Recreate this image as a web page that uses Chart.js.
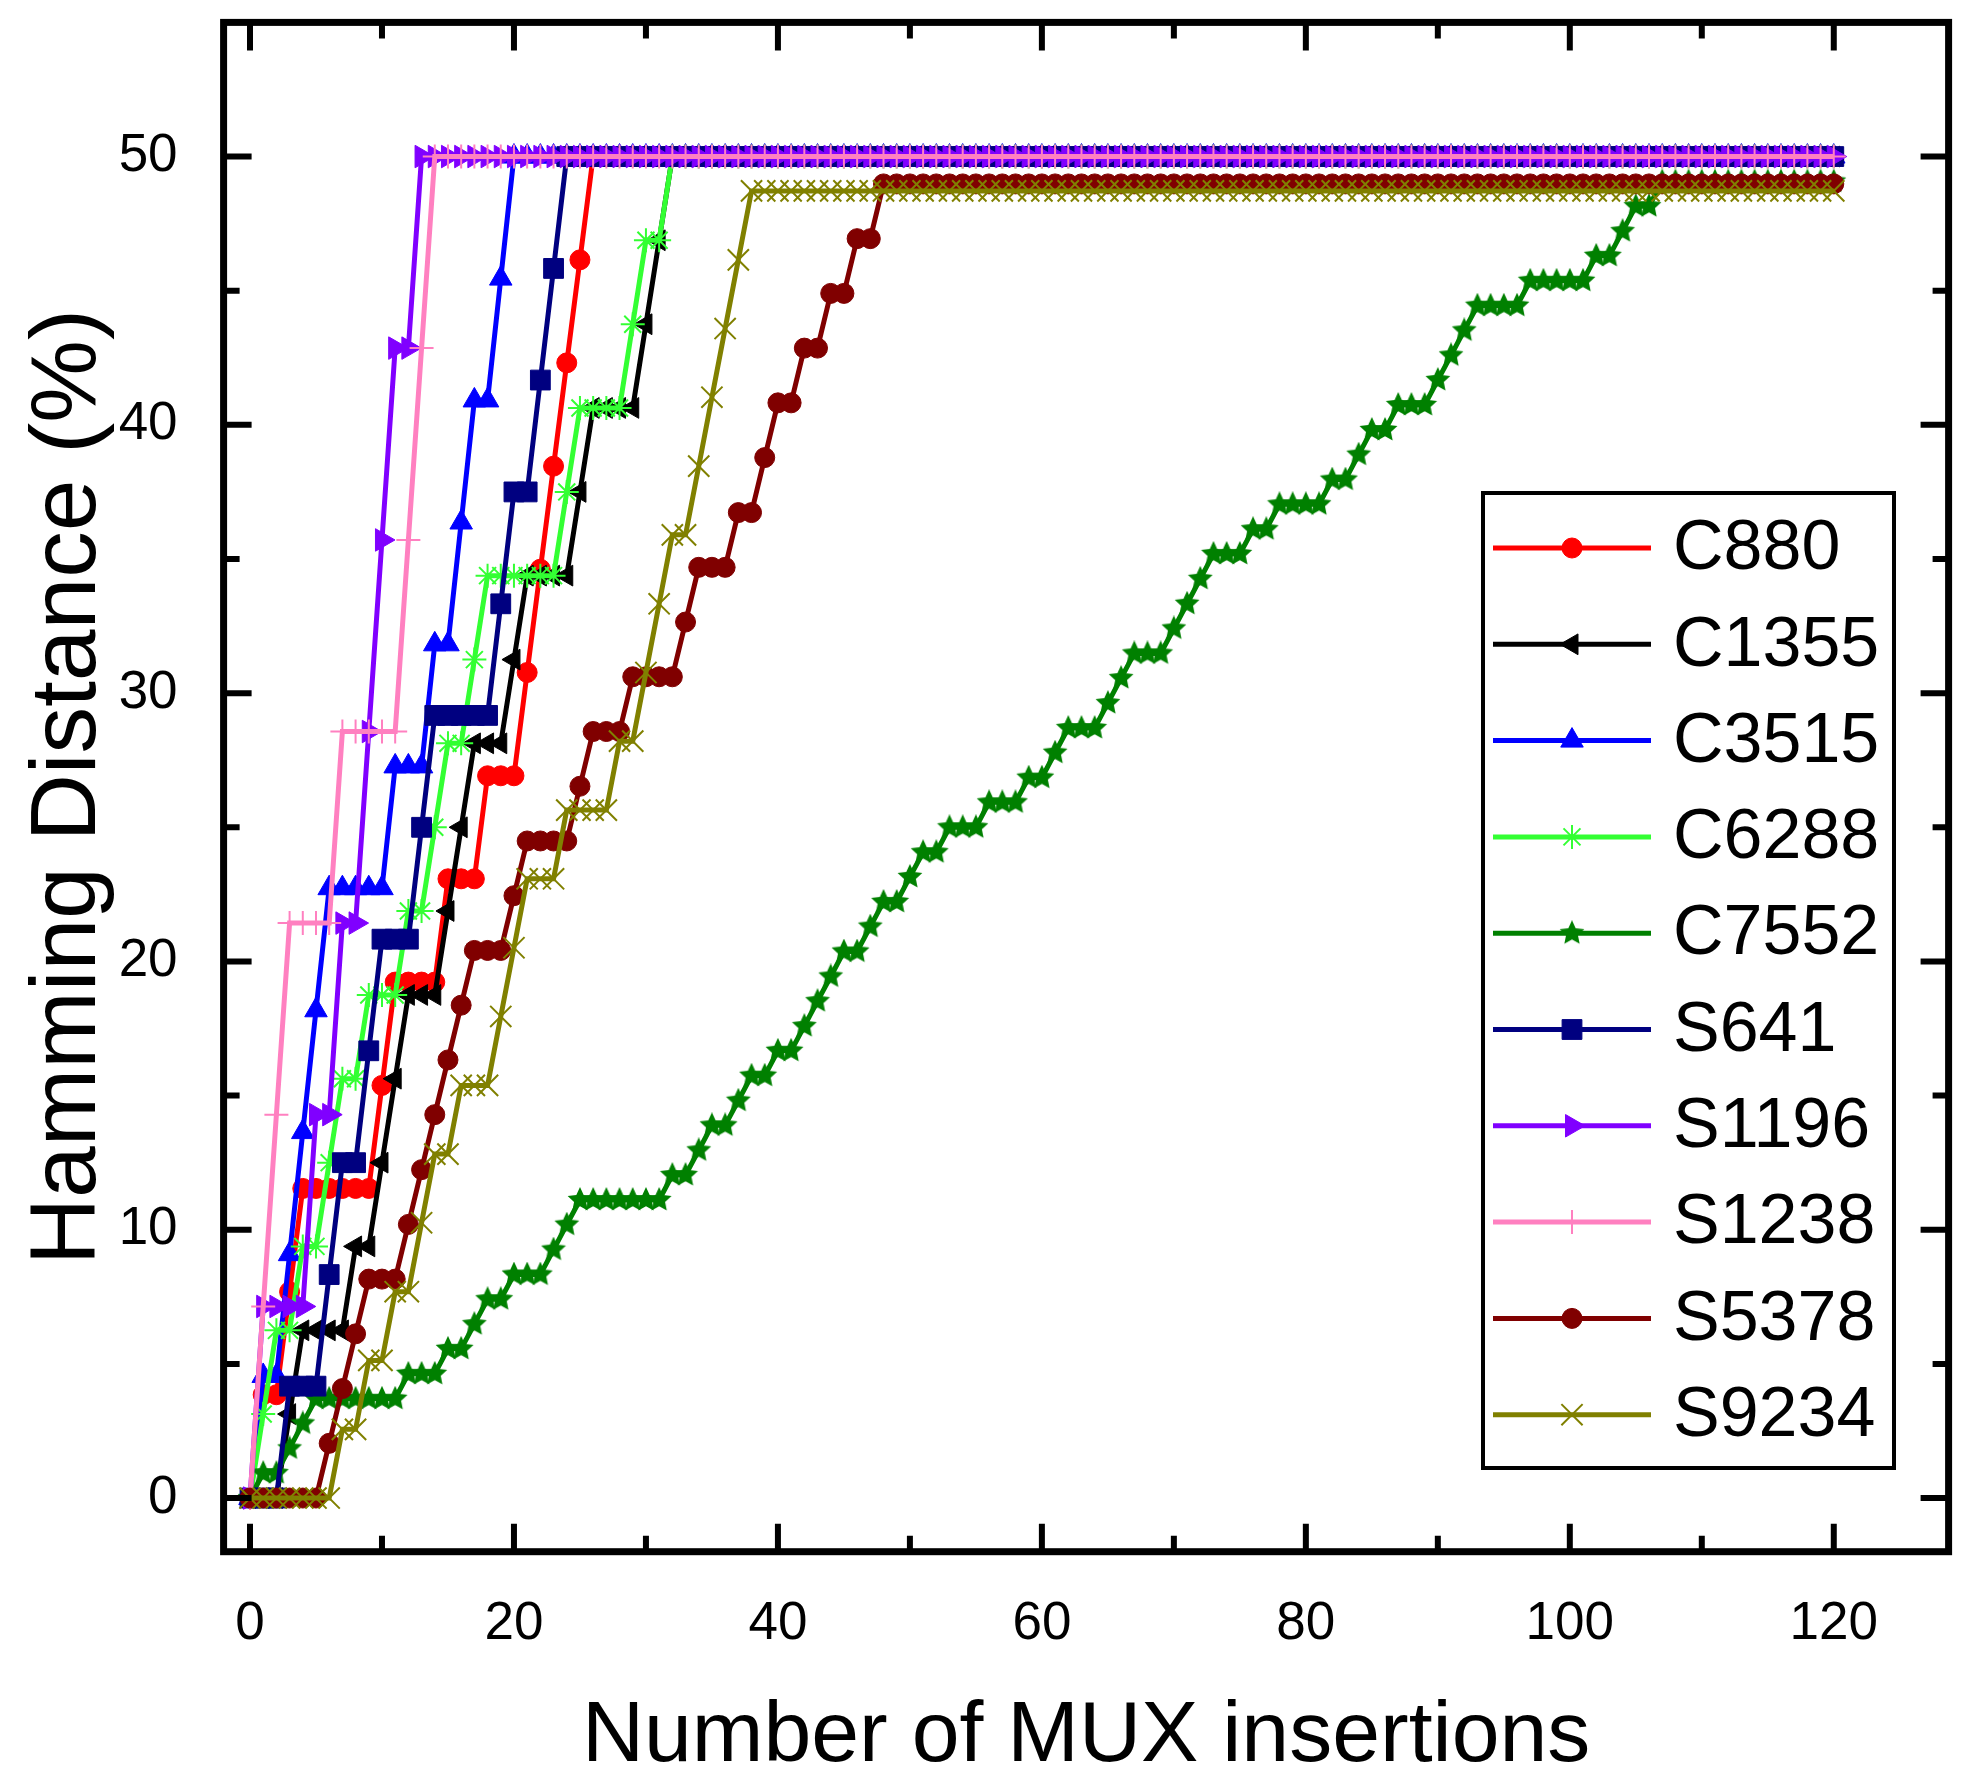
<!DOCTYPE html>
<html>
<head>
<meta charset="utf-8">
<title>Hamming Distance vs MUX insertions</title>
<script src="https://cdn.jsdelivr.net/npm/chart.js@4/dist/chart.umd.min.js"></script>
<style>
  html, body { margin: 0; padding: 0; background: #fff; }
  #chart { display: block; }
</style>
</head>
<body>
<canvas id="chart" width="1984" height="1791" style="width:1984px;height:1791px"></canvas>
<script>
// x values: number of MUX insertions
const insertions = [
  0, 1, 2, 3, 4, 5, 6, 7, 8, 9,
  10, 11, 12, 13, 14, 15, 16, 17, 18, 19,
  20, 21, 22, 23, 24, 25, 26, 27, 28, 29,
  30, 31, 32, 33, 34, 35, 36, 37, 38, 39,
  40, 41, 42, 43, 44, 45, 46, 47, 48, 49,
  50, 51, 52, 53, 54, 55, 56, 57, 58, 59,
  60, 61, 62, 63, 64, 65, 66, 67, 68, 69,
  70, 71, 72, 73, 74, 75, 76, 77, 78, 79,
  80, 81, 82, 83, 84, 85, 86, 87, 88, 89,
  90, 91, 92, 93, 94, 95, 96, 97, 98, 99,
  100, 101, 102, 103, 104, 105, 106, 107, 108, 109,
  110, 111, 112, 113, 114, 115, 116, 117, 118, 119,
  120
];

const c880 = [
  0, 3.85, 3.85, 7.69, 11.54, 11.54, 11.54, 11.54, 11.54, 11.54,
  15.38, 19.23, 19.23, 19.23, 19.23, 23.08, 23.08, 23.08, 26.92, 26.92,
  26.92, 30.77, 34.62, 38.46, 42.31, 46.15, 50, 50, 50, 50,
  50, 50, 50, 50, 50, 50, 50, 50, 50, 50,
  50, 50, 50, 50, 50, 50, 50, 50, 50, 50,
  50, 50, 50, 50, 50, 50, 50, 50, 50, 50,
  50, 50, 50, 50, 50, 50, 50, 50, 50, 50,
  50, 50, 50, 50, 50, 50, 50, 50, 50, 50,
  50, 50, 50, 50, 50, 50, 50, 50, 50, 50,
  50, 50, 50, 50, 50, 50, 50, 50, 50, 50,
  50, 50, 50, 50, 50, 50, 50, 50, 50, 50,
  50, 50, 50, 50, 50, 50, 50, 50, 50, 50,
  50
];

const c1355 = [
  0, 0, 0, 3.13, 6.25, 6.25, 6.25, 6.25, 9.38, 9.38,
  12.5, 15.63, 18.75, 18.75, 18.75, 21.88, 25, 28.13, 28.13, 28.13,
  31.25, 34.38, 34.38, 34.38, 34.38, 37.5, 40.63, 40.63, 40.63, 40.63,
  43.75, 46.88, 50, 50, 50, 50, 50, 50, 50, 50,
  50, 50, 50, 50, 50, 50, 50, 50, 50, 50,
  50, 50, 50, 50, 50, 50, 50, 50, 50, 50,
  50, 50, 50, 50, 50, 50, 50, 50, 50, 50,
  50, 50, 50, 50, 50, 50, 50, 50, 50, 50,
  50, 50, 50, 50, 50, 50, 50, 50, 50, 50,
  50, 50, 50, 50, 50, 50, 50, 50, 50, 50,
  50, 50, 50, 50, 50, 50, 50, 50, 50, 50,
  50, 50, 50, 50, 50, 50, 50, 50, 50, 50,
  50
];

const c3515 = [
  0, 4.55, 4.55, 9.09, 13.64, 18.18, 22.73, 22.73, 22.73, 22.73,
  22.73, 27.27, 27.27, 27.27, 31.82, 31.82, 36.36, 40.91, 40.91, 45.45,
  50, 50, 50, 50, 50, 50, 50, 50, 50, 50,
  50, 50, 50, 50, 50, 50, 50, 50, 50, 50,
  50, 50, 50, 50, 50, 50, 50, 50, 50, 50,
  50, 50, 50, 50, 50, 50, 50, 50, 50, 50,
  50, 50, 50, 50, 50, 50, 50, 50, 50, 50,
  50, 50, 50, 50, 50, 50, 50, 50, 50, 50,
  50, 50, 50, 50, 50, 50, 50, 50, 50, 50,
  50, 50, 50, 50, 50, 50, 50, 50, 50, 50,
  50, 50, 50, 50, 50, 50, 50, 50, 50, 50,
  50, 50, 50, 50, 50, 50, 50, 50, 50, 50,
  50
];

const c6288 = [
  0, 3.13, 6.25, 6.25, 9.38, 9.38, 12.5, 15.63, 15.63, 18.75,
  18.75, 18.75, 21.88, 21.88, 25, 28.13, 28.13, 31.25, 34.38, 34.38,
  34.38, 34.38, 34.38, 34.38, 37.5, 40.63, 40.63, 40.63, 40.63, 43.75,
  46.88, 46.88, 50, 50, 50, 50, 50, 50, 50, 50,
  50, 50, 50, 50, 50, 50, 50, 50, 50, 50,
  50, 50, 50, 50, 50, 50, 50, 50, 50, 50,
  50, 50, 50, 50, 50, 50, 50, 50, 50, 50,
  50, 50, 50, 50, 50, 50, 50, 50, 50, 50,
  50, 50, 50, 50, 50, 50, 50, 50, 50, 50,
  50, 50, 50, 50, 50, 50, 50, 50, 50, 50,
  50, 50, 50, 50, 50, 50, 50, 50, 50, 50,
  50, 50, 50, 50, 50, 50, 50, 50, 50, 50,
  50
];

const c7552 = [
  0, 0.93, 0.93, 1.85, 2.78, 3.7, 3.7, 3.7, 3.7, 3.7,
  3.7, 3.7, 4.63, 4.63, 4.63, 5.56, 5.56, 6.48, 7.41, 7.41,
  8.33, 8.33, 8.33, 9.26, 10.19, 11.11, 11.11, 11.11, 11.11, 11.11,
  11.11, 11.11, 12.04, 12.04, 12.96, 13.89, 13.89, 14.81, 15.74, 15.74,
  16.67, 16.67, 17.59, 18.52, 19.44, 20.37, 20.37, 21.3, 22.22, 22.22,
  23.15, 24.07, 24.07, 25, 25, 25, 25.93, 25.93, 25.93, 26.85,
  26.85, 27.78, 28.7, 28.7, 28.7, 29.63, 30.56, 31.48, 31.48, 31.48,
  32.41, 33.33, 34.26, 35.19, 35.19, 35.19, 36.11, 36.11, 37.04, 37.04,
  37.04, 37.04, 37.96, 37.96, 38.89, 39.81, 39.81, 40.74, 40.74, 40.74,
  41.67, 42.59, 43.52, 44.44, 44.44, 44.44, 44.44, 45.37, 45.37, 45.37,
  45.37, 45.37, 46.3, 46.3, 47.22, 48.15, 48.15, 49.07, 49.07, 49.07,
  49.07, 49.07, 49.07, 49.07, 49.07, 49.07, 49.07, 49.07, 49.07, 49.07,
  49.07
];

const s641 = [
  0, 0, 0, 4.17, 4.17, 4.17, 8.33, 12.5, 12.5, 16.67,
  20.83, 20.83, 20.83, 25, 29.17, 29.17, 29.17, 29.17, 29.17, 33.33,
  37.5, 37.5, 41.67, 45.83, 50, 50, 50, 50, 50, 50,
  50, 50, 50, 50, 50, 50, 50, 50, 50, 50,
  50, 50, 50, 50, 50, 50, 50, 50, 50, 50,
  50, 50, 50, 50, 50, 50, 50, 50, 50, 50,
  50, 50, 50, 50, 50, 50, 50, 50, 50, 50,
  50, 50, 50, 50, 50, 50, 50, 50, 50, 50,
  50, 50, 50, 50, 50, 50, 50, 50, 50, 50,
  50, 50, 50, 50, 50, 50, 50, 50, 50, 50,
  50, 50, 50, 50, 50, 50, 50, 50, 50, 50,
  50, 50, 50, 50, 50, 50, 50, 50, 50, 50,
  50
];

const s1196 = [
  0, 7.14, 7.14, 7.14, 7.14, 14.29, 14.29, 21.43, 21.43, 28.57,
  35.71, 42.86, 42.86, 50, 50, 50, 50, 50, 50, 50,
  50, 50, 50, 50, 50, 50, 50, 50, 50, 50,
  50, 50, 50, 50, 50, 50, 50, 50, 50, 50,
  50, 50, 50, 50, 50, 50, 50, 50, 50, 50,
  50, 50, 50, 50, 50, 50, 50, 50, 50, 50,
  50, 50, 50, 50, 50, 50, 50, 50, 50, 50,
  50, 50, 50, 50, 50, 50, 50, 50, 50, 50,
  50, 50, 50, 50, 50, 50, 50, 50, 50, 50,
  50, 50, 50, 50, 50, 50, 50, 50, 50, 50,
  50, 50, 50, 50, 50, 50, 50, 50, 50, 50,
  50, 50, 50, 50, 50, 50, 50, 50, 50, 50,
  50
];

const s1238 = [
  0, 7.14, 14.29, 21.43, 21.43, 21.43, 21.43, 28.57, 28.57, 28.57,
  28.57, 28.57, 35.71, 42.86, 50, 50, 50, 50, 50, 50,
  50, 50, 50, 50, 50, 50, 50, 50, 50, 50,
  50, 50, 50, 50, 50, 50, 50, 50, 50, 50,
  50, 50, 50, 50, 50, 50, 50, 50, 50, 50,
  50, 50, 50, 50, 50, 50, 50, 50, 50, 50,
  50, 50, 50, 50, 50, 50, 50, 50, 50, 50,
  50, 50, 50, 50, 50, 50, 50, 50, 50, 50,
  50, 50, 50, 50, 50, 50, 50, 50, 50, 50,
  50, 50, 50, 50, 50, 50, 50, 50, 50, 50,
  50, 50, 50, 50, 50, 50, 50, 50, 50, 50,
  50, 50, 50, 50, 50, 50, 50, 50, 50, 50,
  50
];

const s5378 = [
  0, 0, 0, 0, 0, 0, 2.04, 4.08, 6.12, 8.16,
  8.16, 8.16, 10.2, 12.24, 14.29, 16.33, 18.37, 20.41, 20.41, 20.41,
  22.45, 24.49, 24.49, 24.49, 24.49, 26.53, 28.57, 28.57, 28.57, 30.61,
  30.61, 30.61, 30.61, 32.65, 34.69, 34.69, 34.69, 36.73, 36.73, 38.78,
  40.82, 40.82, 42.86, 42.86, 44.9, 44.9, 46.94, 46.94, 48.98, 48.98,
  48.98, 48.98, 48.98, 48.98, 48.98, 48.98, 48.98, 48.98, 48.98, 48.98,
  48.98, 48.98, 48.98, 48.98, 48.98, 48.98, 48.98, 48.98, 48.98, 48.98,
  48.98, 48.98, 48.98, 48.98, 48.98, 48.98, 48.98, 48.98, 48.98, 48.98,
  48.98, 48.98, 48.98, 48.98, 48.98, 48.98, 48.98, 48.98, 48.98, 48.98,
  48.98, 48.98, 48.98, 48.98, 48.98, 48.98, 48.98, 48.98, 48.98, 48.98,
  48.98, 48.98, 48.98, 48.98, 48.98, 48.98, 48.98, 48.98, 48.98, 48.98,
  48.98, 48.98, 48.98, 48.98, 48.98, 48.98, 48.98, 48.98, 48.98, 48.98,
  48.98
];

const s9234 = [
  0, 0, 0, 0, 0, 0, 0, 2.56, 2.56, 5.13,
  5.13, 7.69, 7.69, 10.26, 12.82, 12.82, 15.38, 15.38, 15.38, 17.95,
  20.51, 23.08, 23.08, 23.08, 25.64, 25.64, 25.64, 25.64, 28.21, 28.21,
  30.77, 33.33, 35.9, 35.9, 38.46, 41.03, 43.59, 46.15, 48.72, 48.72,
  48.72, 48.72, 48.72, 48.72, 48.72, 48.72, 48.72, 48.72, 48.72, 48.72,
  48.72, 48.72, 48.72, 48.72, 48.72, 48.72, 48.72, 48.72, 48.72, 48.72,
  48.72, 48.72, 48.72, 48.72, 48.72, 48.72, 48.72, 48.72, 48.72, 48.72,
  48.72, 48.72, 48.72, 48.72, 48.72, 48.72, 48.72, 48.72, 48.72, 48.72,
  48.72, 48.72, 48.72, 48.72, 48.72, 48.72, 48.72, 48.72, 48.72, 48.72,
  48.72, 48.72, 48.72, 48.72, 48.72, 48.72, 48.72, 48.72, 48.72, 48.72,
  48.72, 48.72, 48.72, 48.72, 48.72, 48.72, 48.72, 48.72, 48.72, 48.72,
  48.72, 48.72, 48.72, 48.72, 48.72, 48.72, 48.72, 48.72, 48.72, 48.72,
  48.72
];

const circuits = ['C880', 'C1355', 'C3515', 'C6288', 'C7552', 'S641', 'S1196', 'S1238', 'S5378', 'S9234'];
const series = [c880, c1355, c3515, c6288, c7552, s641, s1196, s1238, s5378, s9234];

const xMajorTicks = [0, 20, 40, 60, 80, 100, 120];
const xMinorTicks = [10, 30, 50, 70, 90, 110];
const yMajorTicks = [0, 10, 20, 30, 40, 50];
const yMinorTicks = [5, 15, 25, 35, 45];

const FONT = "'Liberation Sans', Arial, Helvetica, sans-serif";

// filled five point star used for C7552
function makeStar(color, size) {
  const c = document.createElement('canvas');
  c.width = size; c.height = size;
  const g = c.getContext('2d');
  g.fillStyle = color;
  g.beginPath();
  for (let k = 0; k < 10; k++) {
    const r = k % 2 ? size * 0.24 : size * 0.5;
    const a = -Math.PI / 2 + k * Math.PI / 5;
    g.lineTo(size / 2 + r * Math.cos(a), size / 2 + r * Math.sin(a));
  }
  g.closePath();
  g.fill();
  return c;
}

// marker look per series
const looks = [
  { color: '#ff0000', point: 'circle', radius: 10, rot: 0, bw: 1 },
  { color: '#000000', point: 'triangle', radius: 12, rot: -90, bw: 1 },
  { color: '#0000ff', point: 'triangle', radius: 13, rot: 0, bw: 1 },
  { color: '#33ff33', point: 'star', radius: 12, rot: 0, bw: 2 },
  { color: '#008000', point: makeStar('#008000', 26), radius: 13, rot: 0, bw: 1 },
  { color: '#000080', point: 'rect', radius: 14, rot: 0, bw: 1 },
  { color: '#8000ff', point: 'triangle', radius: 13, rot: 90, bw: 1 },
  { color: '#ff80c0', point: 'cross', radius: 12, rot: 0, bw: 2 },
  { color: '#800000', point: 'circle', radius: 10, rot: 0, bw: 1 },
  { color: '#808000', point: 'crossRot', radius: 15, rot: 0, bw: 2 }
];

const datasets = series.map((vals, i) => ({
  label: circuits[i],
  data: vals,
  borderColor: looks[i].color,
  backgroundColor: looks[i].color,
  borderWidth: 5,
  pointStyle: looks[i].point,
  pointRadius: looks[i].radius,
  pointRotation: looks[i].rot,
  pointBorderWidth: looks[i].bw,
  pointBackgroundColor: looks[i].color,
  pointBorderColor: looks[i].color,
  tension: 0,
  order: series.length - i
}));

// frame, inward ticks on all four sides, and the boxed legend
const frameAndLegend = {
  id: 'frameAndLegend',
  afterDatasetsDraw(chart) {
    const { ctx, chartArea: a, scales: { x, y } } = chart;
    ctx.save();
    ctx.strokeStyle = '#000';
    ctx.lineCap = 'butt';
    ctx.lineWidth = 6;
    const vTick = (v, len) => {
      const px = x.getPixelForValue(v);
      ctx.beginPath();
      ctx.moveTo(px, a.bottom); ctx.lineTo(px, a.bottom - len);
      ctx.moveTo(px, a.top); ctx.lineTo(px, a.top + len);
      ctx.stroke();
    };
    const hTick = (v, len) => {
      const py = y.getPixelForValue(v);
      ctx.beginPath();
      ctx.moveTo(a.left, py); ctx.lineTo(a.left + len, py);
      ctx.moveTo(a.right, py); ctx.lineTo(a.right - len, py);
      ctx.stroke();
    };
    xMajorTicks.forEach(v => vTick(v, 28));
    xMinorTicks.forEach(v => vTick(v, 16));
    yMajorTicks.forEach(v => hTick(v, 28));
    yMinorTicks.forEach(v => hTick(v, 16));
    ctx.lineWidth = 7;
    ctx.strokeRect(a.left, a.top, a.right - a.left, a.bottom - a.top);

    // legend
    const lx = 1483, ly = 493, lw = 411, lh = 975;
    ctx.fillStyle = '#fff';
    ctx.fillRect(lx, ly, lw, lh);
    ctx.lineWidth = 4;
    ctx.strokeRect(lx, ly, lw, lh);
    ctx.font = '70px ' + FONT;
    ctx.textBaseline = 'middle';
    ctx.textAlign = 'left';
    circuits.forEach((name, i) => {
      const cy = 548 + i * 96.3;
      const lk = looks[i];
      ctx.strokeStyle = lk.color;
      ctx.lineWidth = 5;
      ctx.beginPath();
      ctx.moveTo(1493, cy); ctx.lineTo(1651, cy);
      ctx.stroke();
      ctx.fillStyle = lk.color;
      ctx.lineWidth = lk.bw;
      Chart.helpers.drawPoint(ctx, {
        pointStyle: lk.point, rotation: lk.rot, radius: lk.radius, borderWidth: lk.bw
      }, 1572, cy);
      ctx.fillStyle = '#000';
      ctx.fillText(name, 1673, cy + 2);
    });
    ctx.restore();
  }
};

Chart.defaults.font.family = FONT;
Chart.defaults.color = '#000';

new Chart(document.getElementById('chart').getContext('2d'), {
  type: 'line',
  data: {
    labels: insertions,
    datasets: datasets
  },
  options: {
    responsive: false,
    animation: false,
    devicePixelRatio: 1,
    events: [],
    layout: { padding: { left: 0, top: 22.4, right: 35.4, bottom: 0 } },
    plugins: {
      legend: { display: false },
      tooltip: { enabled: false }
    },
    scales: {
      x: {
        type: 'linear',
        min: -2,
        max: 128.7,
        afterBuildTicks: s => { s.ticks = xMajorTicks.map(v => ({ value: v })); },
        afterFit: s => { s.height = 239.3; s.paddingLeft = 0; s.paddingRight = 0; },
        grid: { display: false },
        border: { display: false },
        ticks: { font: { size: 53 }, color: '#000', padding: 33, maxRotation: 0, autoSkip: false },
        title: { display: true, text: 'Number of MUX insertions', font: { size: 86 }, color: '#000', padding: { top: 0, bottom: 2 } }
      },
      y: {
        type: 'linear',
        min: -2,
        max: 55,
        afterBuildTicks: s => { s.ticks = yMajorTicks.map(v => ({ value: v })); },
        afterFit: s => { s.width = 223.6; s.paddingTop = 0; s.paddingBottom = 0; },
        grid: { display: false },
        border: { display: false },
        ticks: { font: { size: 53 }, color: '#000', padding: 38, autoSkip: false },
        title: { display: true, text: 'Hamming Distance (%)', font: { size: 93 }, color: '#000', padding: { top: 14, bottom: 0 } }
      }
    }
  },
  plugins: [frameAndLegend]
});
</script>
</body>
</html>
